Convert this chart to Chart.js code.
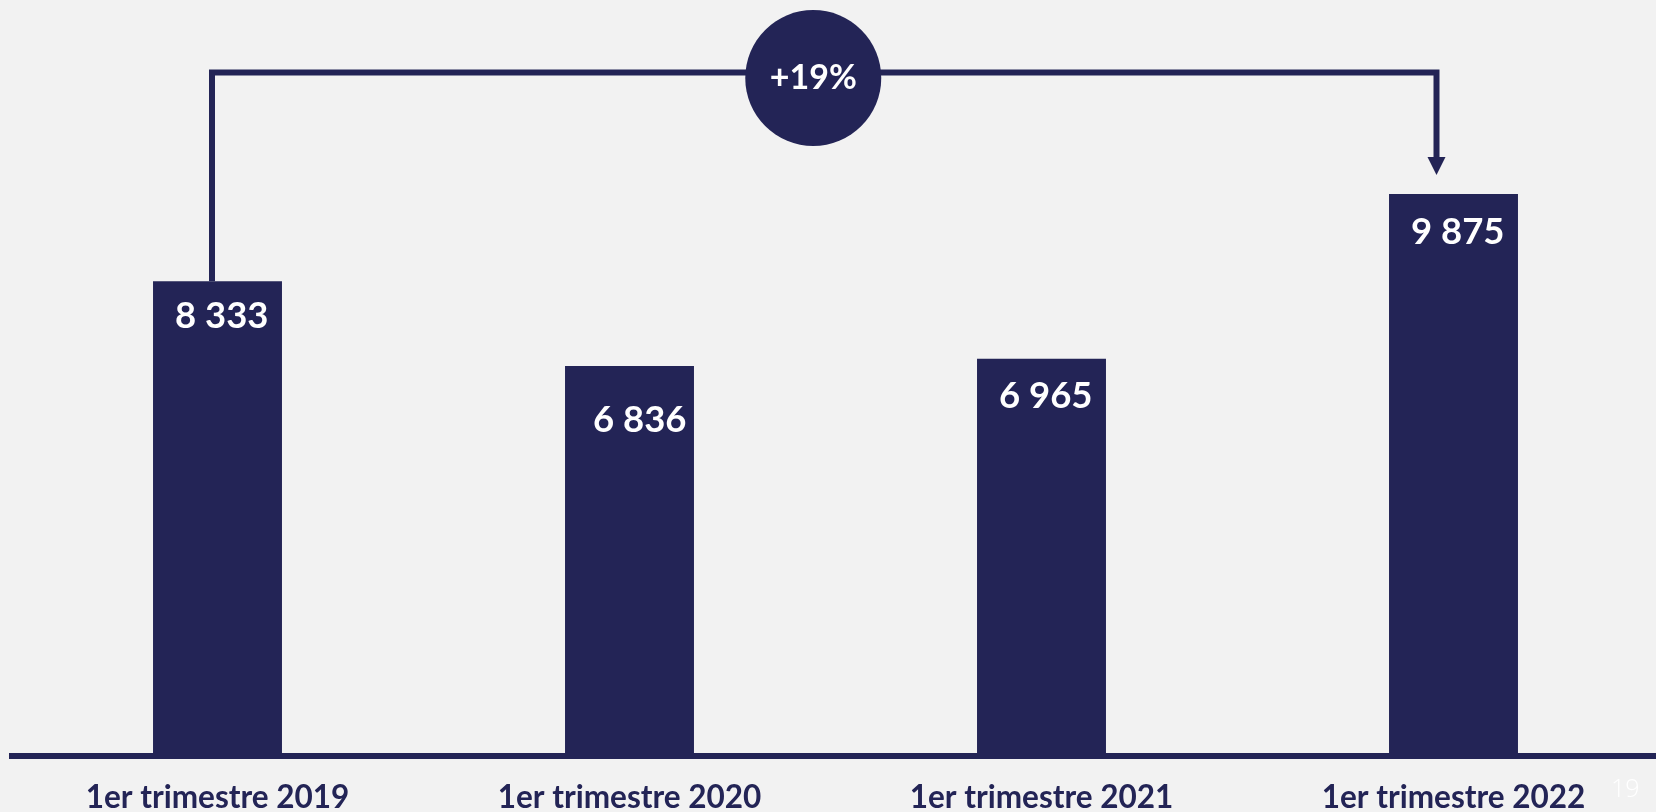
<!DOCTYPE html>
<html>
<head>
<meta charset="utf-8">
<script src="https://cdn.jsdelivr.net/npm/chart.js@4.4.0/dist/chart.umd.min.js"></script>
<style>
  html, body { margin: 0; padding: 0; background: #f2f2f2; }
  #wrap { position: relative; width: 1656px; height: 812px; overflow: hidden; background: #f2f2f2; }
  #pageNum { position: absolute; left: 1611px; top: 770px; font: 300 25px "Open Sans", sans-serif; color: #ffffff; }
</style>
</head>
<body>
<div id="wrap">
  <canvas id="chart" width="1672" height="812"></canvas>
  <div id="pageNum">19</div>
</div>
<script>
// Données du graphique
const categories = ['1er trimestre 2019', '1er trimestre 2020', '1er trimestre 2021', '1er trimestre 2022'];
const valeurs = [8333, 6836, 6965, 9875];
const evolution = '+19%';

const NAVY = '#232456';
const FONT = 'Lato, "Noto Sans", sans-serif';

// Format "8 333"
function formatNombre(v) {
    return String(v).replace(/\B(?=(\d{3})+(?!\d))/g, ' ');
}

// Ligne de base + étiquettes de valeurs + flèche d'évolution
const decorPlugin = {
    id: 'decor',
    afterDatasetsDraw(chart) {
        const ctx = chart.ctx;
        const area = chart.chartArea;
        const bars = chart.getDatasetMeta(0).data;

        // ligne de base
        ctx.save();
        ctx.fillStyle = NAVY;
        ctx.fillRect(9, area.bottom, chart.width, 6);

        // valeurs dans les barres
        const decalage = [[0, 47], [6, 66], [0, 49], [0, 50]];
        ctx.fillStyle = '#ffffff';
        ctx.font = 'bold 36.5px ' + FONT;
        ctx.textAlign = 'right';
        ctx.textBaseline = 'alphabetic';
        bars.forEach((bar, i) => {
            ctx.fillText(formatNombre(valeurs[i]), bar.x + 51 + decalage[i][0], bar.y + decalage[i][1]);
        });

        // accolade de 2019 à 2022
        const first = bars[0];
        const last = bars[bars.length - 1];
        const x1 = first.x - 5.5;
        const x2 = last.x - 17;
        const hy = area.top + 72.5;
        ctx.strokeStyle = NAVY;
        ctx.lineWidth = 6;
        ctx.lineCap = 'butt';
        ctx.lineJoin = 'miter';
        ctx.beginPath();
        ctx.moveTo(x1, first.y);
        ctx.lineTo(x1, hy);
        ctx.lineTo(x2, hy);
        ctx.lineTo(x2, area.top + 158);
        ctx.stroke();

        // pointe de flèche
        ctx.fillStyle = NAVY;
        ctx.beginPath();
        ctx.moveTo(x2 - 9, area.top + 157);
        ctx.lineTo(x2 + 9, area.top + 157);
        ctx.lineTo(x2, area.top + 175);
        ctx.closePath();
        ctx.fill();

        // cercle +19%
        const cx = (x1 + x2) / 2 - 11;
        const cy = area.top + 78;
        ctx.beginPath();
        ctx.arc(cx, cy, 68, 0, Math.PI * 2);
        ctx.fill();
        ctx.fillStyle = '#ffffff';
        ctx.font = 'bold 34px ' + FONT;
        ctx.textAlign = 'center';
        ctx.textBaseline = 'alphabetic';
        ctx.fillText(evolution, cx, cy + 11);
        ctx.restore();
    }
};

const chart = new Chart(document.getElementById('chart'), {
    type: 'bar',
    data: {
        labels: categories,
        datasets: [{
            data: valeurs,
            backgroundColor: NAVY,
            borderWidth: 0,
            categoryPercentage: 1,
            barPercentage: 0.313
        }]
    },
    options: {
        responsive: false,
        animation: false,
        layout: { padding: { left: 11.5, right: 12.5, top: 0, bottom: 0 } },
        plugins: {
            legend: { display: false },
            tooltip: { enabled: false }
        },
        scales: {
            x: {
                grid: { display: false, drawTicks: false },
                border: { display: false },
                ticks: {
                    color: NAVY,
                    font: { family: FONT, size: 31.5, weight: 'bold' },
                    padding: 26,
                    maxRotation: 0,
                    autoSkip: false
                },
                afterFit(scale) { scale.height = 59; }
            },
            y: {
                display: false,
                min: 0,
                max: 13300
            }
        }
    },
    plugins: [decorPlugin]
});
</script>
</body>
</html>
